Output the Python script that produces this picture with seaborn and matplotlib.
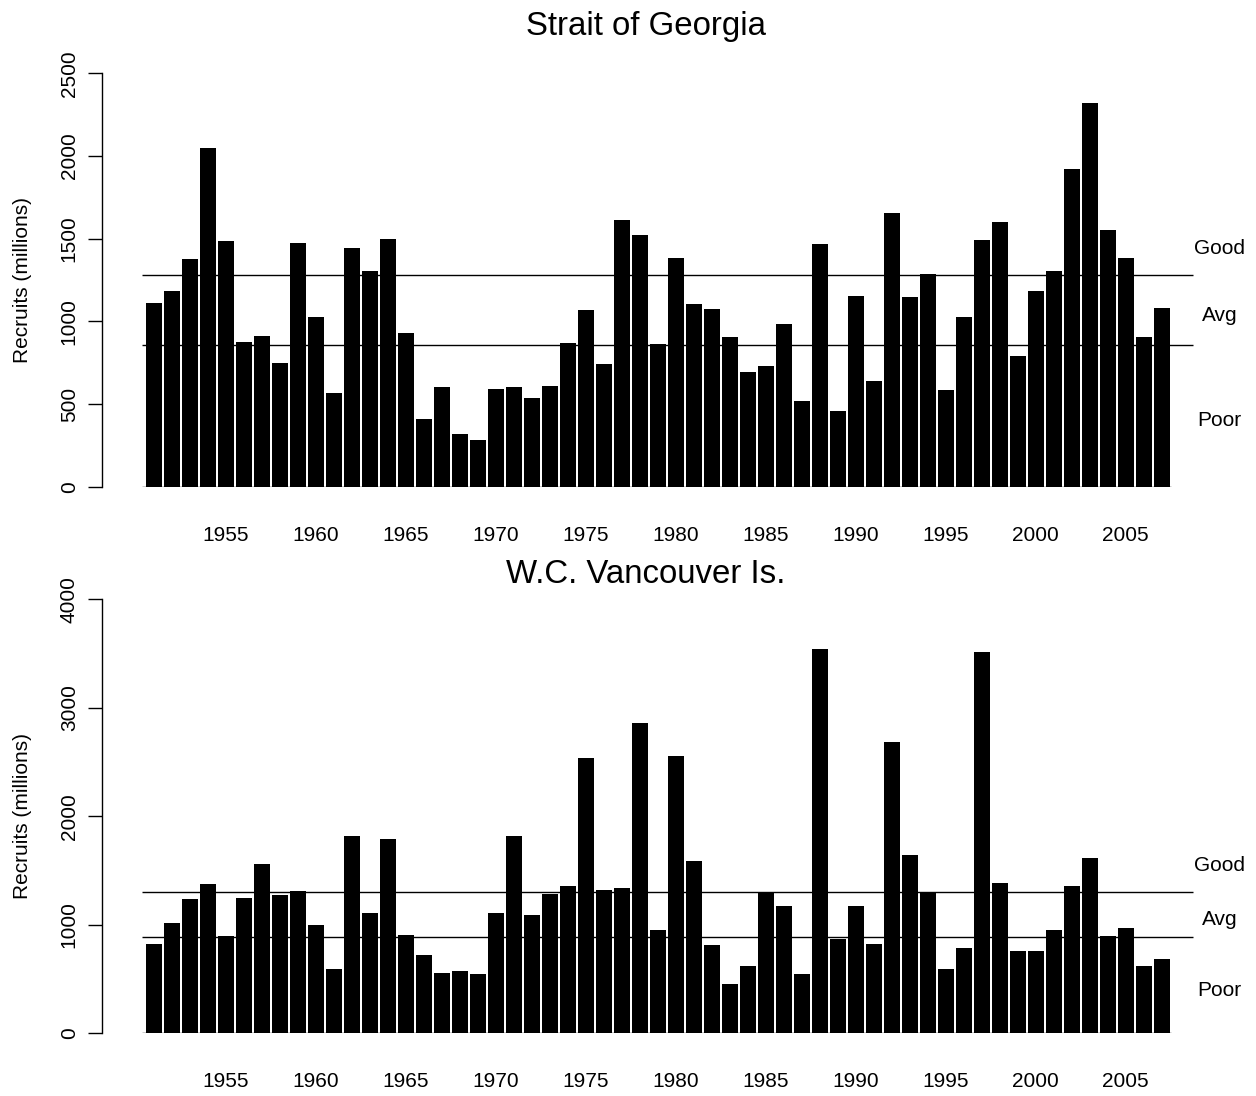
import matplotlib
matplotlib.use("Agg")
import matplotlib.pyplot as plt
import matplotlib.transforms as transforms
import seaborn as sns
import pandas as pd

# recruitment by year (millions)
years = list(range(1951, 2008))
sog_recruits = [1111, 1186, 1377, 2051, 1484, 877, 914, 750, 1472, 1024,
                565, 1442, 1307, 1498, 930, 411, 605, 319, 280, 591,
                603, 536, 607, 869, 1071, 740, 1615, 1523, 861, 1381,
                1103, 1077, 905, 696, 728, 984, 518, 1466, 460, 1152,
                639, 1653, 1145, 1287, 583, 1026, 1490, 1601, 793, 1186,
                1307, 1920, 2323, 1555, 1385, 908, 1079]
wcvi_recruits = [820, 1014, 1241, 1373, 894, 1250, 1564, 1275, 1309, 995,
                 593, 1822, 1106, 1788, 906, 725, 559, 574, 550, 1109,
                 1819, 1087, 1284, 1358, 2537, 1321, 1342, 2863, 952, 2556,
                 1588, 811, 455, 617, 1299, 1174, 550, 3539, 869, 1174,
                 823, 2682, 1644, 1296, 590, 790, 3511, 1382, 762, 759,
                 949, 1355, 1613, 894, 968, 617, 682]

titles = ["Strait of Georgia", "W.C. Vancouver Is."]
good_cut = [1283, 1302]
avg_cut = [859, 888]
y_max = [2500, 4000]
y_step = [500, 1000]
label_years = [1955, 1960, 1965, 1970, 1975, 1980, 1985, 1990, 1995, 2000, 2005]

sns.set_style("white")
plt.rcParams["font.family"] = ["Liberation Sans", "DejaVu Sans"]
plt.rcParams["text.color"] = "black"
plt.rcParams["axes.labelcolor"] = "black"
plt.rcParams["xtick.color"] = "black"
plt.rcParams["ytick.color"] = "black"

W, H = 1256, 1096
fig = plt.figure(figsize=(W / 100, H / 100), dpi=100)

# axes boxes in pixels: (bottom of y=0, top of y=max)
boxes = [(486.7, 73.3), (1033.3, 599.3)]
title_base = [35, 583]
ax_left, ax_right = 101.7, 1200.0
pitch, first_center = 18.0, 153.7

n = len(years)
for k, series in enumerate([sog_recruits, wcvi_recruits]):
    y0, y1 = boxes[k]
    ax = fig.add_axes([ax_left / W, (H - y0) / H, (ax_right - ax_left) / W, (y0 - y1) / H])
    df = pd.DataFrame({"year": [str(y) for y in years], "recruits": series})
    sns.barplot(data=df, x="year", y="recruits", color="black", saturation=1,
                width=0.89, errorbar=None, linewidth=0, ax=ax)
    ax.set_xlim((ax_left - first_center) / pitch, (ax_right - first_center) / pitch)
    ax.set_ylim(0, y_max[k])

    # thresholds and baseline
    ax.hlines([good_cut[k], avg_cut[k]], -0.64, n + 0.72, color="black", lw=1.0)
    ax.hlines(0, -0.64, n - 0.5, color="black", lw=1.0)

    # category labels to the right
    tx = n + 2.2
    off = lambda dy: transforms.offset_copy(ax.transData, fig=fig, y=dy, units="dots")
    ax.text(tx, good_cut[k], "Good", ha="center", va="center", fontsize=15,
            transform=off(26.5))
    ax.text(tx, (good_cut[k] + avg_cut[k]) / 2, "Avg", ha="center", va="center",
            fontsize=15, transform=off(-5.5))
    ax.text(tx, avg_cut[k] / 2, "Poor", ha="center", va="center", fontsize=15,
            transform=off(-5))

    # axes styling like base R
    for s in ["top", "right", "bottom"]:
        ax.spines[s].set_visible(False)
    ax.spines["left"].set_bounds(0, y_max[k])
    ax.spines["left"].set_linewidth(1.0)
    ax.spines["left"].set_color("black")
    yt = list(range(0, y_max[k] + 1, y_step[k]))
    ax.set_yticks(yt)
    ax.set_yticklabels([str(v) for v in yt], rotation=90, va="center")
    ax.tick_params(axis="y", length=10, width=1.0, pad=6.5, labelsize=15,
                   left=True, color="black", labelcolor="black")
    ax.set_xticks([years.index(y) for y in label_years])
    ax.set_xticklabels([str(y) for y in label_years])
    ax.tick_params(axis="x", length=0, pad=28, labelsize=15, labelcolor="black")
    ax.set_xlabel("")
    ax.set_ylabel("")

    fig.text(23 / W, 1 - ((y0 + y1) / 2) / H, "Recruits (millions)", rotation=90,
             ha="center", va="center", fontsize=15)
    fig.text(646 / W, 1 - title_base[k] / H, titles[k], ha="center",
             va="baseline", fontsize=23.8)

fig.savefig("out.png", dpi=100)
